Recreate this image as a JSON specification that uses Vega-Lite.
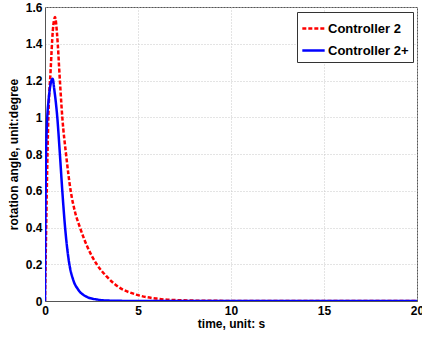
{
  "$schema": "https://vega.github.io/schema/vega-lite/v6.json",
  "width": 372,
  "height": 294,
  "autosize": {"type": "none"},
  "padding": {"left": 45, "top": 7, "right": 5, "bottom": 39},
  "background": "white",
  "config": {
    "font": "Liberation Sans",
    "view": {"stroke": "#555", "strokeWidth": 1},
    "axis": {
      "labelFont": "Liberation Sans", "labelFontWeight": "bold", "labelFontSize": 12, "labelColor": "#000",
      "titleFont": "Liberation Sans", "titleFontWeight": "bold", "titleFontSize": 12, "titleColor": "#000",
      "grid": true, "gridColor": "#c8c8c8", "gridDash": [1, 2], "gridWidth": 1,
      "domainColor": "#555", "ticks": false
    }
  },
  "data": {
    "values": [
      {"t": 0, "v": 0, "s": "Controller 2"},
      {"t": 0.05, "v": 0.32, "s": "Controller 2"},
      {"t": 0.1, "v": 0.62, "s": "Controller 2"},
      {"t": 0.18, "v": 1.0, "s": "Controller 2"},
      {"t": 0.3, "v": 1.25, "s": "Controller 2"},
      {"t": 0.42, "v": 1.47, "s": "Controller 2"},
      {"t": 0.54, "v": 1.545, "s": "Controller 2"},
      {"t": 0.65, "v": 1.45, "s": "Controller 2"},
      {"t": 0.8, "v": 1.2, "s": "Controller 2"},
      {"t": 0.93, "v": 1.0, "s": "Controller 2"},
      {"t": 1.13, "v": 0.8, "s": "Controller 2"},
      {"t": 1.38, "v": 0.6, "s": "Controller 2"},
      {"t": 1.6, "v": 0.49, "s": "Controller 2"},
      {"t": 1.88, "v": 0.4, "s": "Controller 2"},
      {"t": 2.3, "v": 0.29, "s": "Controller 2"},
      {"t": 2.78, "v": 0.2, "s": "Controller 2"},
      {"t": 3.3, "v": 0.135, "s": "Controller 2"},
      {"t": 3.9, "v": 0.08, "s": "Controller 2"},
      {"t": 4.9, "v": 0.035, "s": "Controller 2"},
      {"t": 6, "v": 0.013, "s": "Controller 2"},
      {"t": 7.3, "v": 0.004, "s": "Controller 2"},
      {"t": 9, "v": 0.001, "s": "Controller 2"},
      {"t": 12, "v": 0, "s": "Controller 2"},
      {"t": 20, "v": 0, "s": "Controller 2"},
      {"t": 0, "v": 0, "s": "Controller 2+"},
      {"t": 0.02, "v": 0.4, "s": "Controller 2+"},
      {"t": 0.05, "v": 0.78, "s": "Controller 2+"},
      {"t": 0.1, "v": 0.95, "s": "Controller 2+"},
      {"t": 0.2, "v": 1.1, "s": "Controller 2+"},
      {"t": 0.3, "v": 1.18, "s": "Controller 2+"},
      {"t": 0.41, "v": 1.21, "s": "Controller 2+"},
      {"t": 0.5, "v": 1.15, "s": "Controller 2+"},
      {"t": 0.66, "v": 1.0, "s": "Controller 2+"},
      {"t": 0.8, "v": 0.8, "s": "Controller 2+"},
      {"t": 0.93, "v": 0.6, "s": "Controller 2+"},
      {"t": 1.08, "v": 0.4, "s": "Controller 2+"},
      {"t": 1.31, "v": 0.2, "s": "Controller 2+"},
      {"t": 1.5, "v": 0.12, "s": "Controller 2+"},
      {"t": 1.8, "v": 0.06, "s": "Controller 2+"},
      {"t": 2.2, "v": 0.025, "s": "Controller 2+"},
      {"t": 2.8, "v": 0.008, "s": "Controller 2+"},
      {"t": 3.5, "v": 0.002, "s": "Controller 2+"},
      {"t": 5, "v": 0, "s": "Controller 2+"},
      {"t": 20, "v": 0, "s": "Controller 2+"}
    ]
  },
  "mark": {"type": "line", "strokeWidth": 2.5, "interpolate": "monotone", "clip": true},
  "encoding": {
    "x": {
      "field": "t", "type": "quantitative", "title": "time, unit: s",
      "scale": {"domain": [0, 20], "nice": false},
      "axis": {"values": [0, 5, 10, 15, 20], "labelPadding": 4, "titlePadding": 2, "labelFlush": false, "labelBound": false, "labelOverlap": false}
    },
    "y": {
      "field": "v", "type": "quantitative", "title": "rotation angle, unit:degree",
      "scale": {"domain": [0, 1.6], "nice": false},
      "axis": {"values": [0, 0.2, 0.4, 0.6, 0.8, 1, 1.2, 1.4, 1.6], "format": "~g", "labelPadding": 3, "titlePadding": 5, "labelFlush": false, "labelOverlap": false}
    },
    "color": {
      "field": "s", "type": "nominal",
      "scale": {"domain": ["Controller 2", "Controller 2+"], "range": ["#ff0000", "#0000ff"]},
      "legend": {
        "title": null, "orient": "none", "legendX": 252, "legendY": 5,
        "strokeColor": "#333", "fillColor": "white", "padding": 4,
        "symbolType": "stroke", "symbolSize": 500, "symbolStrokeWidth": 2.5,
        "labelFont": "Liberation Sans", "labelFontWeight": "bold", "labelFontSize": 13, "labelColor": "#000",
        "rowPadding": 2, "labelOffset": 2
      }
    },
    "strokeDash": {
      "field": "s", "type": "nominal",
      "scale": {"domain": ["Controller 2", "Controller 2+"], "range": [[4, 2], [1, 0]]},
      "legend": {
        "title": null, "orient": "none", "legendX": 252, "legendY": 5,
        "strokeColor": "#333", "fillColor": "white", "padding": 4,
        "symbolType": "stroke", "symbolSize": 500, "symbolStrokeWidth": 2.5,
        "labelFont": "Liberation Sans", "labelFontWeight": "bold", "labelFontSize": 13, "labelColor": "#000",
        "rowPadding": 2, "labelOffset": 2
      }
    }
  }
}
